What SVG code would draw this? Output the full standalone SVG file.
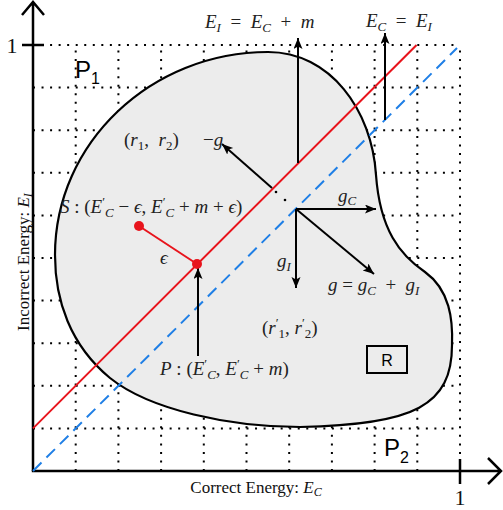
<svg xmlns="http://www.w3.org/2000/svg" width="503" height="510" viewBox="0 0 503 510">
<defs>
<marker id="ah" markerUnits="userSpaceOnUse" markerWidth="12" markerHeight="10" refX="11" refY="4.5" orient="auto">
<path d="M0,0 L11,4.5 L0,9 L2.5,4.5 z" fill="#000"/>
</marker>
<style>
.grid{stroke:#000;stroke-width:2;stroke-dasharray:2 6.54;fill:none}
.axis{stroke:#000;stroke-width:2.5;fill:none}
.arr{stroke:#000;stroke-width:2;fill:none;marker-end:url(#ah)}
.m{font-family:"Liberation Serif","DejaVu Serif",serif;font-style:italic;font-size:19px;fill:#222;white-space:pre}
.n{font-style:normal}
.s{font-size:13px}
.sans{font-family:"Liberation Sans","DejaVu Sans",sans-serif;fill:#000}
.lab{font-family:"Liberation Serif","DejaVu Serif",serif;font-size:17px;fill:#111}
</style>
</defs>
<rect width="503" height="510" fill="#fff"/>
<g id="grid">
<path class="grid" d="M75.7,471V45M118.4,471V45M161.1,471V45M203.8,471V45M246.5,471V45M289.2,471V45M331.9,471V45M374.6,471V45M417.3,471V45M460,471V45"/>
<path class="grid" d="M33,428.4H460M33,385.8H460M33,343.2H460M33,300.6H460M33,258H460M33,215.4H460M33,172.8H460M33,130.2H460M33,87.6H460M33,45H460"/>
</g>
<g id="region-R">
<path d="M55,255 C55,143 151,52 268,52 C330,52 372,110 376,175 C380,230 400,255 425,272 C450,290 453,320 452,345 C452,405 415,425 300,427 C230,427 150,410 110,378 C70,345 55,300 55,255 Z" fill="#ececec" stroke="#000" stroke-width="2.2"/>
</g>
<g id="axes">
<path class="axis" d="M33,471V2M22,15L33,2L44,15M22,45H44"/>
<path class="axis" d="M31.8,471H501M488,458L501,471L488,484M460,459V484"/>
<text class="lab" x="12" y="53" text-anchor="middle" style="font-size:22px">1</text>
<text class="lab" x="460" y="505" text-anchor="middle" style="font-size:22px">1</text>
<text class="lab" x="256" y="493" text-anchor="middle">Correct Energy: <tspan font-style="italic">E</tspan><tspan font-style="italic" font-size="12" dy="3">C</tspan></text>
<text class="lab" transform="translate(29,262) rotate(-90)" text-anchor="middle">Incorrect Energy: <tspan font-style="italic">E</tspan><tspan font-style="italic" font-size="12" dy="3">I</tspan></text>
</g>
<g id="connectors">
<line x1="33" y1="471" x2="457" y2="48" stroke="#1f7fe6" stroke-width="2" stroke-dasharray="12 7"/>
<line x1="33" y1="428.4" x2="416.6" y2="45" stroke="#e8141c" stroke-width="2"/>
<line x1="139" y1="226" x2="197" y2="264" stroke="#e8141c" stroke-width="2"/>
<line class="arr" x1="298" y1="163" x2="298" y2="38"/>
<line class="arr" x1="385" y1="120" x2="385" y2="33"/>
<line class="arr" x1="272" y1="188" x2="222" y2="144"/>
<line class="arr" x1="296" y1="209" x2="376" y2="209"/>
<line class="arr" x1="296" y1="209" x2="296" y2="288"/>
<line class="arr" x1="296" y1="209" x2="374" y2="274"/>
<line class="arr" x1="198" y1="356" x2="198" y2="268"/>
<circle cx="276" cy="192" r="1.3" fill="#000"/>
<circle cx="285" cy="200" r="1.3" fill="#000"/>
</g>
<g id="point-S"><circle cx="139" cy="226" r="5" fill="#e8141c"/></g>
<g id="point-P"><circle cx="197" cy="264" r="5" fill="#e8141c"/></g>
<g id="labels">
<text class="m" x="205" y="28">E<tspan class="s" dy="4">I</tspan><tspan dy="-4" class="n">  =  </tspan>E<tspan class="s" dy="4">C</tspan><tspan dy="-4" class="n">  +  </tspan>m</text>
<text class="m" x="366" y="27">E<tspan class="s" dy="4">C</tspan><tspan dy="-4" class="n">  =  </tspan>E<tspan class="s" dy="4">I</tspan></text>
<text class="m" x="124" y="146"><tspan class="n">(</tspan>r<tspan class="s n" dy="4">1</tspan><tspan dy="-4" class="n">,  </tspan>r<tspan class="s n" dy="4">2</tspan><tspan dy="-4" class="n">)</tspan></text>
<text class="m" x="203" y="146"><tspan class="n">−</tspan>g</text>
<text class="m" x="60" y="213">S<tspan class="n"> : (</tspan>E<tspan class="s n" dy="-7">′</tspan><tspan class="s" dy="11">C</tspan><tspan dy="-4" class="n"> − </tspan>ϵ<tspan class="n">, </tspan>E<tspan class="s n" dy="-7">′</tspan><tspan class="s" dy="11">C</tspan><tspan dy="-4" class="n"> + </tspan>m<tspan class="n"> + </tspan>ϵ<tspan class="n">)</tspan></text>
<text class="m" x="160" y="264">ϵ</text>
<text class="m" x="338" y="202">g<tspan class="s" dy="3">C</tspan></text>
<text class="m" x="277" y="267">g<tspan class="s" dy="4">I</tspan></text>
<text class="m" x="328" y="291">g<tspan class="n"> = </tspan>g<tspan class="s" dy="4">C</tspan><tspan dy="-4" class="n">  +  </tspan>g<tspan class="s" dy="4">I</tspan></text>
<text class="m" x="262" y="334"><tspan class="n">(</tspan>r<tspan class="s n" dy="-7">′</tspan><tspan class="s n" dy="11">1</tspan><tspan dy="-4" class="n">, </tspan>r<tspan class="s n" dy="-7">′</tspan><tspan class="s n" dy="11">2</tspan><tspan dy="-4" class="n">)</tspan></text>
<text class="m" x="160" y="375">P<tspan class="n"> : (</tspan>E<tspan class="s n" dy="-7">′</tspan><tspan class="s" dy="11">C</tspan><tspan dy="-4" class="n">, </tspan>E<tspan class="s n" dy="-7">′</tspan><tspan class="s" dy="11">C</tspan><tspan dy="-4" class="n"> + </tspan>m<tspan class="n">)</tspan></text>
</g>
<g id="P1"><text class="sans" x="75" y="78" style="font-size:24px">P<tspan font-size="16" dy="6">1</tspan></text></g>
<g id="P2"><text class="sans" x="384" y="456" style="font-size:24px">P<tspan font-size="16" dy="7">2</tspan></text></g>
<g id="R"><rect x="367" y="346" width="40" height="27" fill="none" stroke="#000" stroke-width="2"/><text class="sans" x="387" y="366" text-anchor="middle" style="font-size:16px">R</text></g>
</svg>
